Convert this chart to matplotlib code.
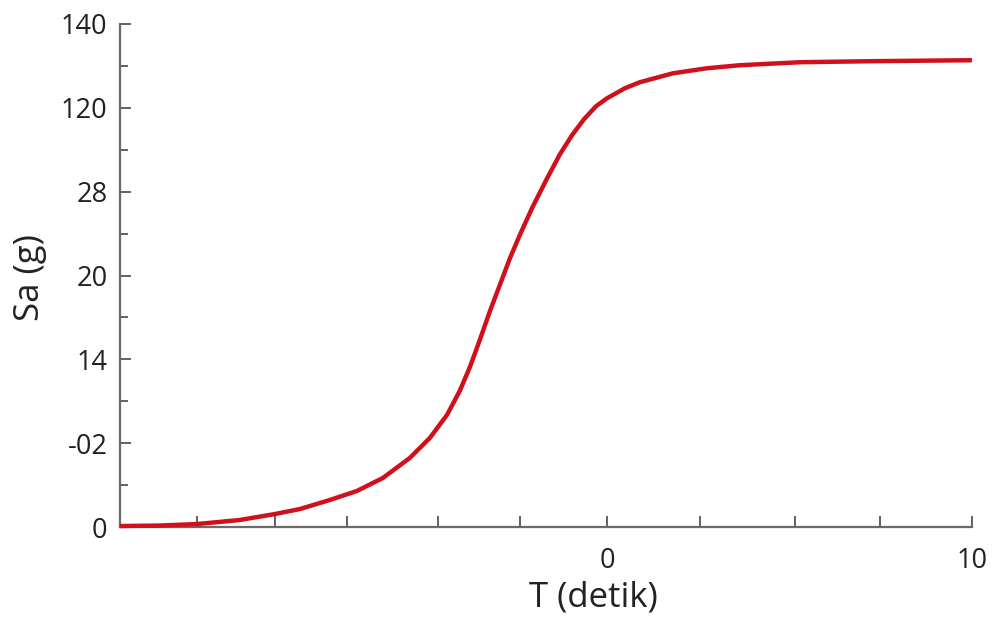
import numpy as np
import matplotlib.pyplot as plt

# curve (x in axis units, y in tick-slot units)
t_vals = [-13.34, -12.25, -11.23, -10.06, -9.10, -8.41, -7.59, -6.85, -6.14,
          -5.40, -4.85, -4.38, -4.03, -3.75, -3.48, -3.21, -2.93, -2.66,
          -2.38, -2.03, -1.64, -1.29, -0.96, -0.63, -0.30, 0.0, 0.49, 0.90,
          1.81, 2.74, 3.64, 5.29, 7.21, 10.0]
sa_vals = [0.012, 0.018, 0.036, 0.084, 0.155, 0.215, 0.323, 0.430, 0.585,
           0.824, 1.063, 1.338, 1.625, 1.912, 2.234, 2.569, 2.891, 3.202,
           3.489, 3.823, 4.158, 4.444, 4.671, 4.863, 5.018, 5.113, 5.233,
           5.305, 5.412, 5.472, 5.508, 5.544, 5.556, 5.568]

y_ticklabels = ['0', '-02', '14', '20', '28', '120', '140']
x_major = [0, 10]
x_minor = [-11.23, -9.10, -7.12, -4.63, -2.38, 2.55, 5.15, 7.48]

plt.rcParams['font.family'] = ['Open Sans', 'DejaVu Sans']

fig = plt.figure(figsize=(9.93, 6.23), dpi=100)
ax = fig.add_axes([0.1208, 0.154, 0.8580, 0.8075])

ax.plot(t_vals, sa_vals, color='#d0111c', linewidth=3.2, clip_on=False,
        solid_capstyle='butt', solid_joinstyle='round', zorder=5)

ax.set_xlim(-13.34, 10)
ax.set_ylim(0, 6)

ax.set_yticks(range(len(y_ticklabels)))
ax.set_yticklabels(y_ticklabels)
ax.set_yticks(np.arange(0.5, 6, 1), minor=True)
ax.set_xticks(x_major)
ax.set_xticks(x_minor, minor=True)

ax.spines[['top', 'right']].set_visible(False)
for s in ['left', 'bottom']:
    ax.spines[s].set_color('#6b6b6b')
    ax.spines[s].set_linewidth(1.6)

ax.tick_params(axis='both', which='both', direction='in', color='#555555',
               width=1.3, labelcolor='#222222', labelsize=19.5)
ax.tick_params(axis='y', which='major', length=8, pad=9)
ax.tick_params(axis='y', which='minor', length=6)
ax.tick_params(axis='x', which='both', length=8, pad=14)

fig.text(593 / 993, 1 - 598 / 623, 'T (detik)', ha='center', va='center',
         fontsize=25, color='#222222')
fig.text(30 / 993, 1 - 278 / 623, 'Sa (g)', ha='center', va='center',
         rotation=90, fontsize=25, color='#222222')

fig.savefig('out.png', dpi=100)
